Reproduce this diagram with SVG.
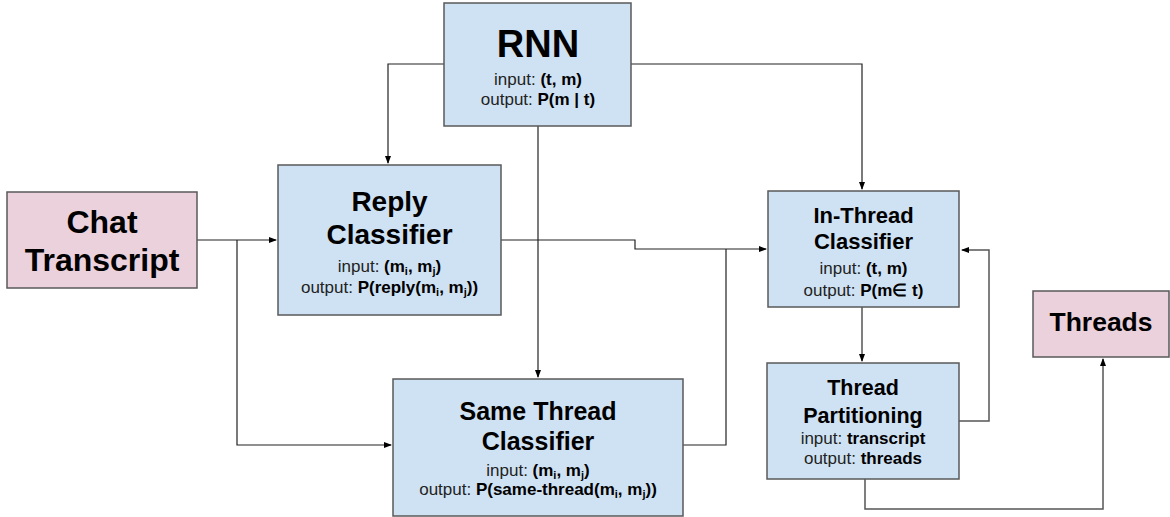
<svg xmlns="http://www.w3.org/2000/svg" width="1170" height="517" viewBox="0 0 1170 517">
<defs>
<marker id="ah" markerWidth="8" markerHeight="8" refX="7" refY="4" orient="auto" markerUnits="userSpaceOnUse">
<path d="M0,1 L8,4 L0,7 Z" fill="#000"/>
</marker>
<style>
.blue{fill:#cfe2f3;stroke:#595959;stroke-width:1.5}
.pink{fill:#ead1dc;stroke:#595959;stroke-width:1.5}
.t{font-family:"Liberation Sans",Arial,sans-serif;font-weight:bold;fill:#000;text-anchor:middle}
.s{font-family:"Liberation Sans",Arial,sans-serif;font-size:17px;fill:#222;text-anchor:middle}
.b{font-weight:bold;fill:#000}
.c{fill:none;stroke:#222;stroke-width:1.2}
.g{fill:none;stroke:#555;stroke-width:1.5}
</style>
</defs>
<rect width="1170" height="517" fill="#fff"/>
<g id="connectors">
<path class="c" d="M444,64 H388 V163" marker-end="url(#ah)"/>
<path class="c" d="M631,64 H862 V189" marker-end="url(#ah)"/>
<path class="c" d="M538,126 V377" marker-end="url(#ah)"/>
<path class="c" d="M197,240 H276" marker-end="url(#ah)"/>
<path class="c" d="M237,240 V445 H391" marker-end="url(#ah)"/>
<path class="c" d="M501,240 H635 V249 H766" marker-end="url(#ah)"/>
<path class="c" d="M683,445 H726 V249"/>
<path class="g" d="M959,421 H989 V250 H962" marker-end="url(#ah)"/>
<path class="g" d="M862,307 V361" marker-end="url(#ah)"/>
<path class="g" d="M865,479 V509 H1103 V359" marker-end="url(#ah)"/>
</g>
<g id="rnn">
<rect class="blue" x="444" y="3" width="187" height="123"/>
<text class="t" x="538" y="57" font-size="38">RNN</text>
<text class="s" x="538" y="85">input: <tspan class="b">(t, m)</tspan></text>
<text class="s" x="538" y="105">output: <tspan class="b">P(m | t)</tspan></text>
</g>
<g id="chat-transcript">
<rect class="pink" x="7" y="192" width="190" height="96"/>
<text class="t" x="102" y="233" font-size="32">Chat</text>
<text class="t" x="102" y="271" font-size="32">Transcript</text>
</g>
<g id="reply-classifier">
<rect class="blue" x="278" y="165" width="223" height="150"/>
<text class="t" x="389.5" y="211" font-size="28">Reply</text>
<text class="t" x="389.5" y="244" font-size="28">Classifier</text>
<text class="s" x="389.5" y="272">input: <tspan class="b">(m<tspan font-size="11" dy="3">i</tspan><tspan dy="-3">, m</tspan><tspan font-size="11" dy="3">j</tspan><tspan dy="-3">)</tspan></tspan></text>
<text class="s" x="389.5" y="293">output: <tspan class="b">P(reply(m<tspan font-size="11" dy="3">i</tspan><tspan dy="-3">, m</tspan><tspan font-size="11" dy="3">j</tspan><tspan dy="-3">))</tspan></tspan></text>
</g>
<g id="same-thread-classifier">
<rect class="blue" x="393" y="379" width="290" height="137"/>
<text class="t" x="538" y="420" font-size="25">Same Thread</text>
<text class="t" x="538" y="450" font-size="25">Classifier</text>
<text class="s" x="538" y="476">input: <tspan class="b">(m<tspan font-size="11" dy="3">i</tspan><tspan dy="-3">, m</tspan><tspan font-size="11" dy="3">j</tspan><tspan dy="-3">)</tspan></tspan></text>
<text class="s" x="538" y="495">output: <tspan class="b">P(same-thread(m<tspan font-size="11" dy="3">i</tspan><tspan dy="-3">, m</tspan><tspan font-size="11" dy="3">j</tspan><tspan dy="-3">))</tspan></tspan></text>
</g>
<g id="in-thread-classifier">
<rect class="blue" x="768" y="191" width="191" height="116"/>
<text class="t" x="863.5" y="223" font-size="22">In-Thread</text>
<text class="t" x="863.5" y="249" font-size="22">Classifier</text>
<text class="s" x="863.5" y="274">input: <tspan class="b">(t, m)</tspan></text>
<text class="s" x="863.5" y="296">output: <tspan class="b">P(m∈ t)</tspan></text>
</g>
<g id="thread-partitioning">
<rect class="blue" x="767" y="363" width="192" height="116"/>
<text class="t" x="863" y="395" font-size="21.5">Thread</text>
<text class="t" x="863" y="423" font-size="21.5">Partitioning</text>
<text class="s" x="863" y="444">input: <tspan class="b">transcript</tspan></text>
<text class="s" x="863" y="464">output: <tspan class="b">threads</tspan></text>
</g>
<g id="threads">
<rect class="pink" x="1033" y="291" width="136" height="66"/>
<text class="t" x="1101" y="331" font-size="26.5">Threads</text>
</g>
</svg>
